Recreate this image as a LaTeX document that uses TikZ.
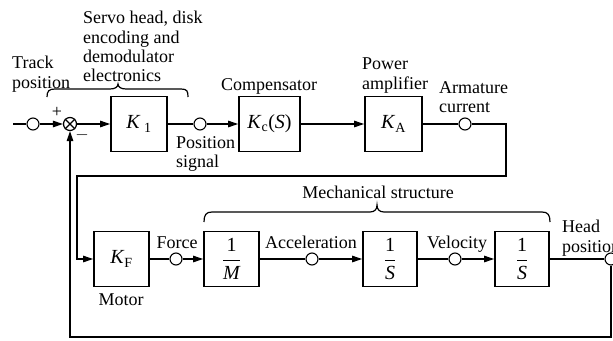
\documentclass[tikz,border=0pt]{standalone}
\usepackage{fontspec}
\setmainfont{Liberation Serif}
\usetikzlibrary{arrows.meta}
\newcommand{\myfrac}[2]{\(\displaystyle\frac{\mbox{#1}}{\mbox{\itshape #2}}\)}
\begin{document}
\begin{tikzpicture}[x=1pt,y=-1pt,
  blk/.style={draw,line width=1.8pt,minimum height=55pt,inner sep=0pt,font=\fontsize{20}{22}\selectfont},
  pt/.style={draw,circle,line width=1.1pt,minimum size=12pt,inner sep=0pt},
  sj/.style={draw,circle,line width=1.2pt,minimum size=13pt,inner sep=0pt},
  con/.style={line width=1.2pt},
  arr/.style={con,-{Triangle[length=10pt,width=6.5pt]}},
  lbl/.style={font=\fontsize{18}{19.4}\selectfont,inner sep=0pt},
]
\useasboundingbox (0,0) rectangle (613,340);
% top row
\coordinate (in) at (13,124);
\node[pt] (c0) at (33,124) {};
\node[sj] (s) at (70,124) {};
\draw[con] (s.north west) -- (s.south east) (s.north east) -- (s.south west);
\node[blk,minimum width=56pt] (k1) at (139,124) {\textit{K}\,\textsubscript{1}};
\node[pt] (c1) at (200,124) {};
\node[blk,minimum width=61pt] (kc) at (269.5,124) {\textit{K}\textsubscript{c}(\textit{S})};
\node[blk,minimum width=57pt] (ka) at (393.5,124) {\textit{K}\textsubscript{A}};
\node[pt] (c2) at (465,124) {};
\coordinate (r1) at (506,124);
\coordinate (l1) at (77,176);
% bottom row
\node[blk,minimum width=55pt] (kf) at (121.5,259) {\textit{K}\textsubscript{F}};
\node[pt] (c3) at (176,259) {};
\node[blk,minimum width=55pt] (m) at (231.5,259) {\myfrac{1}{M}};
\node[pt] (c4) at (312,259) {};
\node[blk,minimum width=54pt] (s1) at (390,259) {\myfrac{1}{S}};
\node[pt] (c5) at (455,259) {};
\node[blk,minimum width=54pt] (s2) at (522,259) {\myfrac{1}{S}};
\node[pt] (c6) at (611,259) {};
\coordinate (b1) at (611,337);
% connectors
\draw[con] (in) -- (c0);
\draw[arr] (c0) -- (s);
\draw[arr] (s) -- (k1);
\draw[con] (k1) -- (c1);
\draw[arr] (c1) -- (kc);
\draw[arr] (kc) -- (ka);
\draw[con] (ka) -- (c2);
\draw[arr] (c2) -- (r1) |- (l1) |- (kf);
\draw[con] (kf) -- (c3);
\draw[arr] (c3) -- (m);
\draw[con] (m) -- (c4);
\draw[arr] (c4) -- (s1);
\draw[con] (s1) -- (c5);
\draw[arr] (c5) -- (s2);
\draw[con] (s2) -- (c6);
\draw[arr] (c6) -- (b1) -| (s);
% signs
\node[lbl] (plus) at (57,112) {+};
\node[lbl] (minus) at (82,135) {$-$};
% braces
\draw[con] (47,97) .. controls (47,91) and (49,89) .. (55,89) -- (110,89) .. controls (115,89) and (118,87) .. (118,84) .. controls (118,87) and (121,89) .. (126,89) -- (181,89) .. controls (187,89) and (188,91) .. (188,97);
\draw[con] (204,222) .. controls (204,215) and (206,212) .. (212,212) -- (370,212) .. controls (375,212) and (377,209) .. (377,205) .. controls (377,209) and (379,212) .. (384,212) -- (542,212) .. controls (548,212) and (550,215) .. (550,222);
% labels
\node[lbl,anchor=north west,align=left] (servo) at (83,11) {Servo head, disk\\encoding and\\demodulator\\electronics};
\node[lbl,anchor=north west,align=left] (track) at (12,56) {Track\\position};
\node[lbl] (comp) at (269,86) {Compensator};
\node[lbl,anchor=north west,align=left] (pow) at (362,58) {Power\\amplifier};
\node[lbl,anchor=north west,align=left] (arm) at (439,81) {Armature\\current};
\node[lbl,anchor=north west,align=left] (pos) at (176,136) {Position\\signal};
\node[lbl,anchor=base] (mech) at (378,198) {Mechanical structure};
\node[lbl,anchor=base] (force) at (177,248.5) {Force};
\node[lbl,anchor=base] (acc) at (311,248.5) {Acceleration};
\node[lbl,anchor=base] (vel) at (457,248.5) {Velocity};
\node[lbl,anchor=north west,align=left] (head) at (562,220) {Head\\position};
\node[lbl,anchor=base] (motor) at (121,305) {Motor};
\end{tikzpicture}
\end{document}
